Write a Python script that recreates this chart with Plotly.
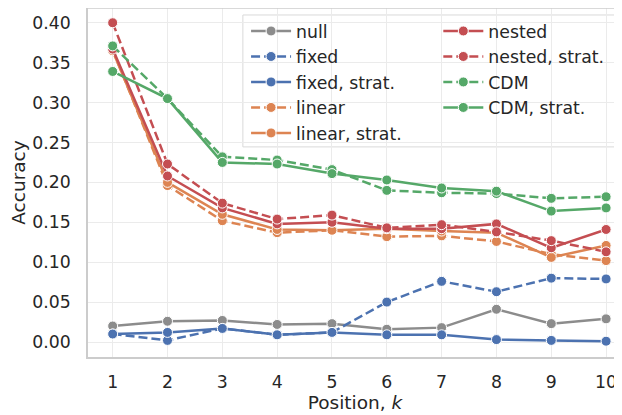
import plotly.graph_objects as go

positions = [1, 2, 3, 4, 5, 6, 7, 8, 9, 10]

null_acc = [0.020, 0.026, 0.027, 0.022, 0.023, 0.016, 0.018, 0.041, 0.023, 0.029]
fixed_acc = [0.010, 0.002, 0.017, 0.009, 0.012, 0.050, 0.076, 0.063, 0.080, 0.079]
fixed_strat_acc = [0.010, 0.012, 0.017, 0.009, 0.012, 0.009, 0.009, 0.003, 0.002, 0.001]
linear_acc = [0.366, 0.196, 0.152, 0.137, 0.140, 0.132, 0.133, 0.126, 0.110, 0.102]
linear_strat_acc = [0.365, 0.200, 0.160, 0.141, 0.140, 0.142, 0.139, 0.137, 0.106, 0.121]
nested_acc = [0.367, 0.208, 0.168, 0.148, 0.150, 0.142, 0.142, 0.148, 0.118, 0.141]
nested_strat_acc = [0.400, 0.223, 0.174, 0.154, 0.159, 0.143, 0.147, 0.138, 0.127, 0.113]
cdm_acc = [0.371, 0.305, 0.232, 0.228, 0.216, 0.190, 0.187, 0.186, 0.180, 0.182]
cdm_strat_acc = [0.339, 0.305, 0.225, 0.223, 0.211, 0.203, 0.193, 0.189, 0.164, 0.168]

y_ticks = [0.00, 0.05, 0.10, 0.15, 0.20, 0.25, 0.30, 0.35, 0.40]

GRAY = "#8c8c8c"
BLUE = "#4c72b0"
ORANGE = "#dd8452"
RED = "#c44e52"
GREEN = "#55a868"

series = [
    ("null", null_acc, GRAY, "solid", "legend"),
    ("fixed", fixed_acc, BLUE, "dash", "legend"),
    ("fixed, strat.", fixed_strat_acc, BLUE, "solid", "legend"),
    ("linear", linear_acc, ORANGE, "dash", "legend"),
    ("linear, strat.", linear_strat_acc, ORANGE, "solid", "legend"),
    ("nested", nested_acc, RED, "solid", "legend2"),
    ("nested, strat.", nested_strat_acc, RED, "dash", "legend2"),
    ("CDM", cdm_acc, GREEN, "dash", "legend2"),
    ("CDM, strat.", cdm_strat_acc, GREEN, "solid", "legend2"),
]

FONT = "DejaVu Sans"
TXT = "#262626"
FS = 17.3

fig = go.Figure()
for name, vals, color, dash, lg in series:
    fig.add_trace(go.Scatter(
        x=positions, y=vals, name=name, mode="lines+markers",
        line=dict(color=color, width=2.5, dash="9px,4px" if dash == "dash" else "solid"),
        marker=dict(size=10, color=color, line=dict(color="white", width=1)),
        legend=lg,
    ))

# The page body has an 8px default margin, so the figure is sized to fill the rest.
fig.update_layout(
    width=614, height=407,
    margin=dict(l=80, r=0, t=0, b=58, autoexpand=False),
    paper_bgcolor="white", plot_bgcolor="white",
    font=dict(family=FONT, size=FS, color=TXT),
    legend=dict(
        x=0.296, y=0.985, xanchor="left", yanchor="top",
        bgcolor="rgba(0,0,0,0)", borderwidth=0,
        font=dict(family=FONT, size=FS, color=TXT),
        tracegroupgap=0, itemwidth=40,
    ),
    legend2=dict(
        x=0.656, y=0.985, xanchor="left", yanchor="top",
        bgcolor="rgba(0,0,0,0)", borderwidth=0,
        font=dict(family=FONT, size=FS, color=TXT),
        tracegroupgap=0, itemwidth=40,
    ),
    shapes=[dict(
        type="rect", xref="paper", yref="paper",
        x0=0.290, x1=0.991, y0=0.602, y1=0.980,
        line=dict(color="#d9d9d9", width=1), fillcolor="rgba(255,255,255,0.8)",
        layer="below",
    )],
)

fig.update_xaxes(
    range=[0.55, 10.29], tickvals=positions, ticktext=[str(p) for p in positions],
    showgrid=True, gridcolor="#ebebeb", gridwidth=1,
    showline=True, linecolor="#cccccc", linewidth=1.5, mirror=False,
    zeroline=False, ticks="", ticklabelstandoff=8, automargin=False,
    tickfont=dict(family=FONT, size=FS, color=TXT),
    title=dict(text="Position, <i>k</i>", font=dict(family=FONT, size=18.5, color=TXT), standoff=2),
)
fig.update_yaxes(
    range=[-0.0188, 0.4185], tickvals=y_ticks, ticktext=[f"{v:.2f}" for v in y_ticks],
    showgrid=True, gridcolor="#ebebeb", gridwidth=1,
    showline=True, linecolor="#cccccc", linewidth=1.5,
    zeroline=False, ticks="", ticklabelstandoff=12, automargin=False,
    tickfont=dict(family=FONT, size=FS, color=TXT),
    title=dict(text="Accuracy", font=dict(family=FONT, size=18.5, color=TXT), standoff=4),
)
# top frame line
fig.add_shape(type="line", xref="paper", yref="paper", x0=0, x1=1, y0=1, y1=1,
              line=dict(color="#cccccc", width=1.5))

fig.write_html("out.html")
